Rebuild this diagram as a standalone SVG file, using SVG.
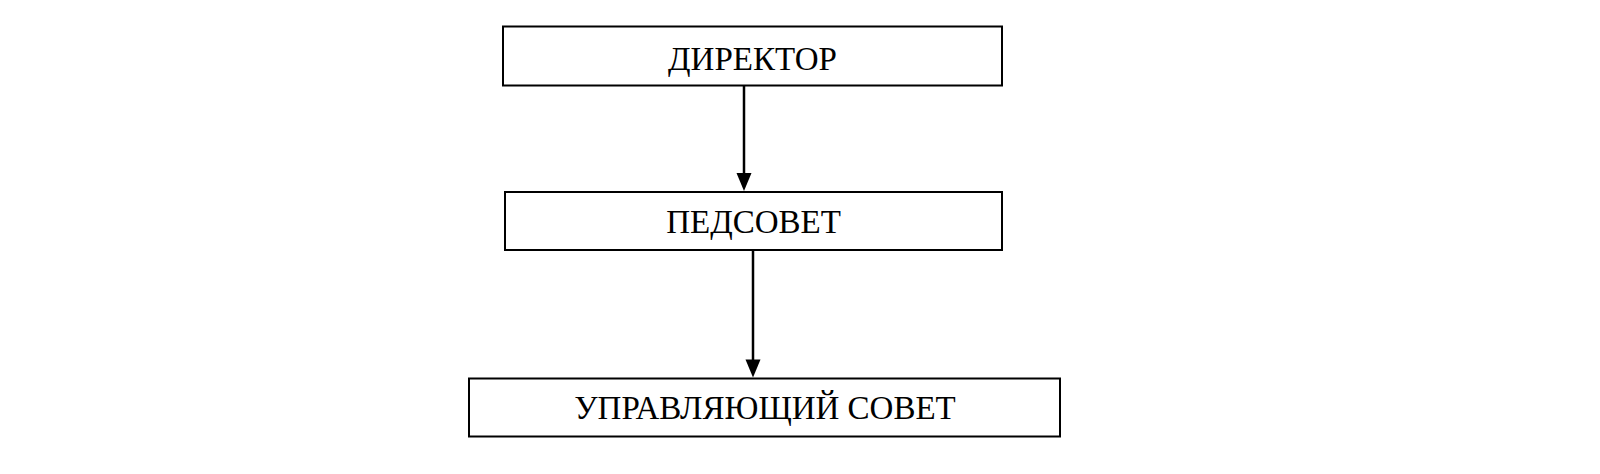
<svg xmlns="http://www.w3.org/2000/svg" width="1600" height="474" viewBox="0 0 1600 474">
<style>
.box{fill:#fff;stroke:#000;stroke-width:2}
.lbl{font-family:"Liberation Serif","Times New Roman",serif;font-size:33px;fill:#000;text-anchor:middle}
.conn{stroke:#000;stroke-width:2.5;fill:none}
.head{fill:#000}
</style>
<rect width="1600" height="474" fill="#fff"/>
<g id="node-director">
<rect class="box" x="503" y="26.5" width="499" height="59"/>
<text class="lbl" x="752.5" y="69.5">ДИРЕКТОР</text>
</g>
<g id="node-pedsovet">
<rect class="box" x="505" y="192" width="497" height="58"/>
<text class="lbl" x="753.5" y="233">ПЕДСОВЕТ</text>
</g>
<g id="node-council">
<rect class="box" x="469" y="378.5" width="591" height="58"/>
<text class="lbl" x="765" y="418.5">УПРАВЛЯЮЩИЙ СОВЕТ</text>
</g>
<g id="connectors">
<line class="conn" x1="744" y1="86" x2="744" y2="176"/>
<path class="head" d="M736.5,173 L751.5,173 L744,191 Z"/>
<line class="conn" x1="753" y1="250" x2="753" y2="362"/>
<path class="head" d="M745.5,359.5 L760.5,359.5 L753,377.5 Z"/>
</g>
</svg>
